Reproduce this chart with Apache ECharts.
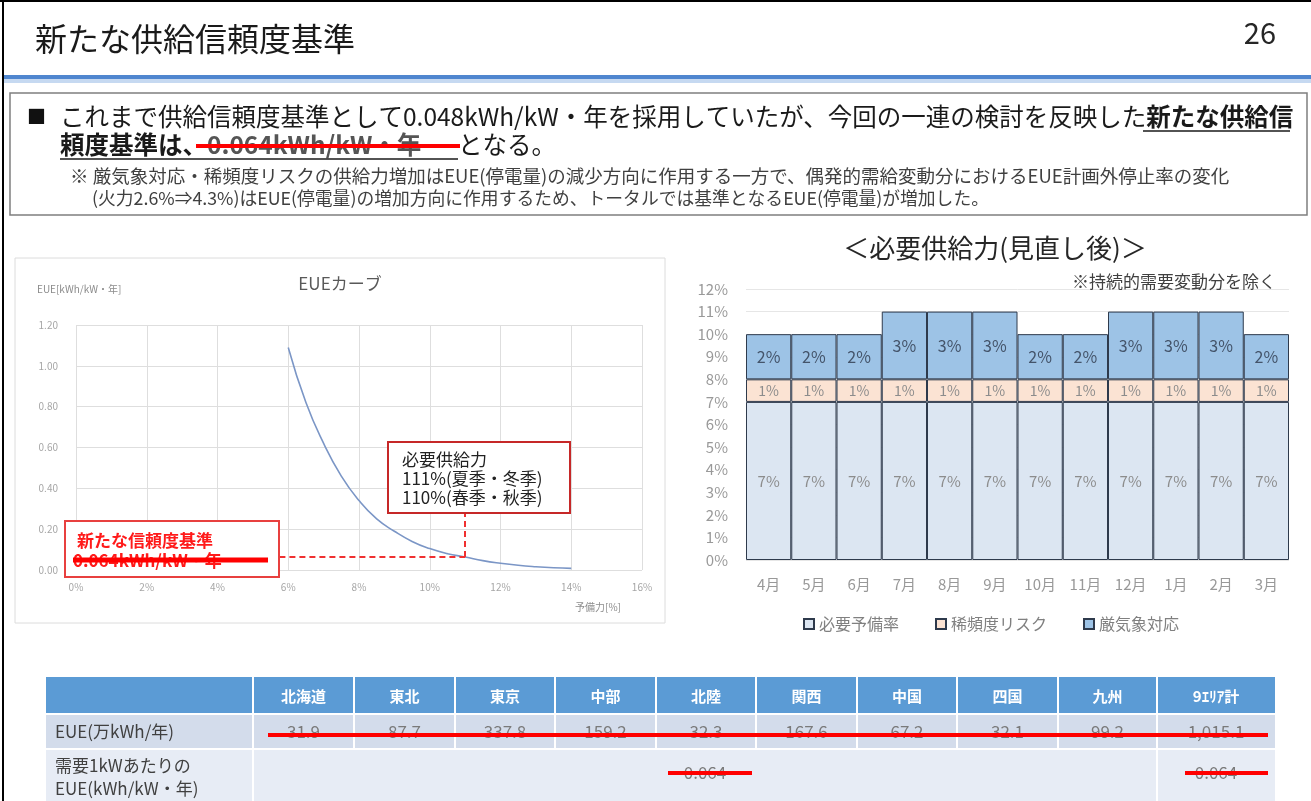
<!DOCTYPE html>
<html>
<head>
<meta charset="utf-8">
<script src="https://cdn.jsdelivr.net/npm/echarts@6/dist/echarts.min.js"></script>
<style>
  html, body { margin: 0; padding: 0; background: #fff; }
  #main { width: 1311px; height: 801px; }
</style>
</head>
<body>
<div id="main"></div>
<script>
const FONT = '"Noto Sans CJK JP", "Noto Sans", sans-serif';

// EUEカーブ (予備力[%] -> EUE[kWh/kW・年])
const eueReserve = [6, 6.5, 7, 7.5, 8, 8.5, 9, 9.5, 10, 10.5, 11, 11.5, 12, 12.5, 13, 13.5, 14];
const eueValue = [1.09, 0.82, 0.62, 0.46, 0.34, 0.25, 0.19, 0.14, 0.105, 0.08, 0.064, 0.046, 0.033, 0.023, 0.016, 0.011, 0.008];
const eueStandard = 0.064;
const requiredReserve = 11;

// 必要供給力(見直し後)
const months = ['4月', '5月', '6月', '7月', '8月', '9月', '10月', '11月', '12月', '1月', '2月', '3月'];
const baseReserve = [7, 7, 7, 7, 7, 7, 7, 7, 7, 7, 7, 7];
const rareRisk = [1, 1, 1, 1, 1, 1, 1, 1, 1, 1, 1, 1];
const severeWeather = [2, 2, 2, 3, 3, 3, 2, 2, 3, 3, 3, 2];
const seriesNames = ['必要予備率', '稀頻度リスク', '厳気象対応'];

// 表
const areas = ['北海道', '東北', '東京', '中部', '北陸', '関西', '中国', '四国', '九州', '9ｴﾘｱ計'];
const eueByArea = ['31.9', '87.7', '337.8', '159.2', '32.3', '167.6', '67.2', '32.1', '99.2', '1,015.1'];
const euePerKw = ['0.064', '0.064'];

const chart = echarts.init(document.getElementById('main'));

function txt(x, y, text, size, color, extra) {
  extra = extra || {};
  return {
    type: 'text', x: x, y: y, z: extra.z || 10,
    style: {
      text: text, fill: color || '#333',
      font: (extra.bold ? 'bold ' : '') + size + 'px ' + FONT,
      textVerticalAlign: 'middle', textAlign: extra.align || 'left'
    }
  };
}
function line(x1, y1, x2, y2, color, width, z, dash) {
  return {
    type: 'line', z: z || 5,
    shape: { x1: x1, y1: y1, x2: x2, y2: y2 },
    style: { stroke: color, lineWidth: width, lineDash: dash || null }
  };
}
function rect(x, y, w, h, fill, stroke, lw, z) {
  return {
    type: 'rect', z: z || 1,
    shape: { x: x, y: y, width: w, height: h },
    style: { fill: fill || 'none', stroke: stroke || 'none', lineWidth: lw || 0 }
  };
}

const g = [];
// slide frame and header
g.push(line(3, 0, 3, 801, '#000', 2));
g.push(line(0, 1, 1311, 1, '#000', 2));
g.push(txt(35, 39, '新たな供給信頼度基準', 32, '#1a1a1a'));
g.push(txt(1276, 33, '26', 29, '#262626', { align: 'right' }));
g.push(rect(3, 75, 1308, 4, '#4f86cf'));
g.push(rect(3, 79, 1308, 4, '#c6d9f1'));
g.push(rect(10, 93, 1297, 122, '#fff', '#7f7f7f', 1.5));
g.push(txt(27, 117, '■', 19, '#111'));
g.push({
  type: 'text', x: 60, y: 117, z: 10,
  style: {
    text: '{n|これまで供給信頼度基準として0.048kWh/kW・年を採用していたが、今回の一連の検討を反映した}{b|新たな供給信}',
    textVerticalAlign: 'middle',
    rich: {
      n: { font: '24.5px ' + FONT, fill: '#1a1a1a' },
      b: { font: 'bold 24.5px ' + FONT, fill: '#1a1a1a' }
    }
  }
});
g.push({
  type: 'text', x: 60, y: 145, z: 10,
  style: {
    text: '{b|頼度基準は、}{s|0.064kWh/kW・年}{n|となる。}',
    textVerticalAlign: 'middle',
    rich: {
      n: { font: '24.5px ' + FONT, fill: '#1a1a1a' },
      b: { font: 'bold 24.5px ' + FONT, fill: '#1a1a1a' },
      s: { font: 'bold 24.5px ' + FONT, fill: '#555', width: 251 }
    }
  }
});
g.push(line(1143, 131, 1290, 131, '#1a1a1a', 1.5, 11));
g.push(line(60, 159, 458, 159, '#1a1a1a', 1.5, 11));
g.push(line(196, 146, 460, 146, '#ff0000', 4, 20));
g.push(txt(70, 176, '※ 厳気象対応・稀頻度リスクの供給力増加はEUE(停電量)の減少方向に作用する一方で、偶発的需給変動分におけるEUE計画外停止率の変化', 18.5, '#404040'));
g.push(txt(92, 198, '(火力2.6%⇒4.3%)はEUE(停電量)の増加方向に作用するため、トータルでは基準となるEUE(停電量)が増加した。', 17.8, '#404040'));

// EUE panel
g.push(rect(15, 258, 650, 365, 'none', '#dcdcdc', 1));
g.push(txt(340, 284, 'EUEカーブ', 17, '#595959', { align: 'center' }));
g.push(txt(37, 289, 'EUE[kWh/kW・年]', 10, '#8c8c8c'));
g.push(txt(575, 607, '予備力[%]', 10, '#8c8c8c'));
g.push(rect(65, 521, 214, 56, '#fff', '#e8403f', 2, 100));
g.push(txt(77, 541, '新たな信頼度基準', 17, '#ff1a1a', { bold: true, z: 101 }));
g.push(txt(73, 561, '0.064kWh/kW・年', 17, '#ff1a1a', { bold: true, z: 101 }));
g.push(line(73, 560, 268, 560, '#ff0000', 5, 102));
g.push(rect(388, 442, 182, 71, '#fff', '#c62828', 2, 100));
g.push(txt(402, 460, '必要供給力', 17, '#222', { z: 101 }));
g.push(txt(402, 479, '111%(夏季・冬季)', 17, '#222', { z: 101 }));
g.push(txt(402, 498, '110%(春季・秋季)', 17, '#222', { z: 101 }));

// bar chart titles
g.push(txt(995, 248, '＜必要供給力(見直し後)＞', 26, '#262626', { align: 'center' }));
g.push(txt(1276, 282, '※持続的需要変動分を除く', 17, '#404040', { align: 'right' }));

// table
const colEdges = [46, 253, 354, 455, 555, 656, 756, 857, 957, 1058, 1157, 1275];
const rowY = [677, 714, 749, 801];
g.push(rect(46, rowY[0], 1229, rowY[1] - rowY[0], '#5b9bd5'));
g.push(rect(46, rowY[1], 1229, rowY[2] - rowY[1], '#d3dceb'));
g.push(rect(46, rowY[2], 1229, rowY[3] - rowY[2], '#e7ecf5'));
for (let i = 1; i < colEdges.length - 1; i++) {
  g.push(line(colEdges[i], rowY[0], colEdges[i], rowY[2], '#fff', 2));
}
g.push(line(253, rowY[2], 253, rowY[3], '#fff', 2));
g.push(line(1157, rowY[2], 1157, rowY[3], '#fff', 2));
g.push(line(46, rowY[1], 1275, rowY[1], '#fff', 2));
g.push(line(46, rowY[2], 1275, rowY[2], '#fff', 2));
areas.forEach(function (a, i) {
  const cx = (colEdges[i + 1] + colEdges[i + 2]) / 2;
  g.push(txt(cx, 696, a, 15, '#fff', { bold: true, align: 'center' }));
  g.push(txt(cx, 732, eueByArea[i], 17, '#7a7a7a', { align: 'center' }));
});
g.push(txt(55, 732, 'EUE(万kWh/年)', 17, '#404040'));
g.push(txt(55, 766, '需要1kWあたりの', 17, '#404040'));
g.push(txt(55, 789, 'EUE(kWh/kW・年)', 17, '#404040'));
g.push(txt((253 + 1157) / 2, 773, euePerKw[0], 17, '#7a7a7a', { align: 'center' }));
g.push(txt((1157 + 1275) / 2, 773, euePerKw[1], 17, '#7a7a7a', { align: 'center' }));
g.push(line(268, 735, 1268, 735, '#ff0000', 4, 20));
g.push(line(668, 773, 752, 773, '#ff0000', 4, 20));
g.push(line(1185, 773, 1268, 773, '#ff0000', 4, 20));

const grayLabel = { color: '#a6a6a6', fontFamily: FONT };

function barSeries(name, data, color, labelColor, size) {
  return {
    name: name, type: 'bar', stack: 'total', xAxisIndex: 1, yAxisIndex: 1,
    barCategoryGap: '0%', data: data,
    itemStyle: { color: color, borderColor: '#2e3a4c', borderWidth: 1 },
    label: {
      show: true, position: 'inside', formatter: '{c}%',
      color: labelColor, fontSize: size, fontFamily: FONT
    },
    emphasis: { disabled: true }
  };
}

chart.setOption({
  animation: false,
  textStyle: { fontFamily: FONT },
  grid: [
    { left: 76, top: 325, width: 566, height: 245 },
    { left: 746, top: 289, width: 543, height: 271 }
  ],
  xAxis: [
    {
      gridIndex: 0, type: 'value', min: 0, max: 16, interval: 2,
      axisLine: { show: false }, axisTick: { show: false },
      splitLine: { lineStyle: { color: '#dedede' } },
      axisLabel: Object.assign({ formatter: '{value}%', fontSize: 10, margin: 12 }, grayLabel)
    },
    {
      gridIndex: 1, type: 'category', data: months,
      axisLine: { show: false }, axisTick: { show: false },
      axisLabel: { fontSize: 15, margin: 17, color: '#999', fontFamily: FONT }
    }
  ],
  yAxis: [
    {
      gridIndex: 0, type: 'value', min: 0, max: 1.2, interval: 0.2,
      axisLine: { show: false }, axisTick: { show: false },
      splitLine: { lineStyle: { color: '#dedede' } },
      axisLabel: Object.assign({
        formatter: function (v) { return v.toFixed(2); }, fontSize: 10, margin: 18
      }, grayLabel)
    },
    {
      gridIndex: 1, type: 'value', min: 0, max: 12, interval: 1,
      axisLine: { show: false }, axisTick: { show: false },
      splitLine: { lineStyle: { color: '#e6e6e6' } },
      axisLabel: { formatter: '{value}%', fontSize: 15, margin: 18, color: '#999', fontFamily: FONT }
    }
  ],
  legend: {
    left: 798, top: 611, itemWidth: 10, itemHeight: 10, itemGap: 36, icon: 'rect',
    data: seriesNames,
    textStyle: { fontSize: 16, color: '#808080', fontFamily: FONT }
  },
  series: [
    {
      name: 'EUE', type: 'line', xAxisIndex: 0, yAxisIndex: 0, smooth: true,
      showSymbol: false, data: eueReserve.map(function (x, i) { return [x, eueValue[i]]; }),
      lineStyle: { color: '#7b96c6', width: 1.6 }, itemStyle: { color: '#7b96c6' },
      markLine: {
        silent: true, symbol: 'none', label: { show: false },
        lineStyle: { color: '#f03030', type: [6, 4], width: 2 },
        data: [
          [{ coord: [5.75, eueStandard] }, { coord: [requiredReserve, eueStandard] }],
          [{ coord: [requiredReserve, eueStandard] }, { coord: [requiredReserve, 0.28] }]
        ]
      }
    },
    barSeries(seriesNames[0], baseReserve, '#dce6f2', '#8c8c8c', 15),
    barSeries(seriesNames[1], rareRisk, '#fbe3d3', '#8c8c8c', 14),
    barSeries(seriesNames[2], severeWeather, '#9dc3e6', '#44546a', 16)
  ],
  graphic: { elements: g }
});
</script>
</body>
</html>
